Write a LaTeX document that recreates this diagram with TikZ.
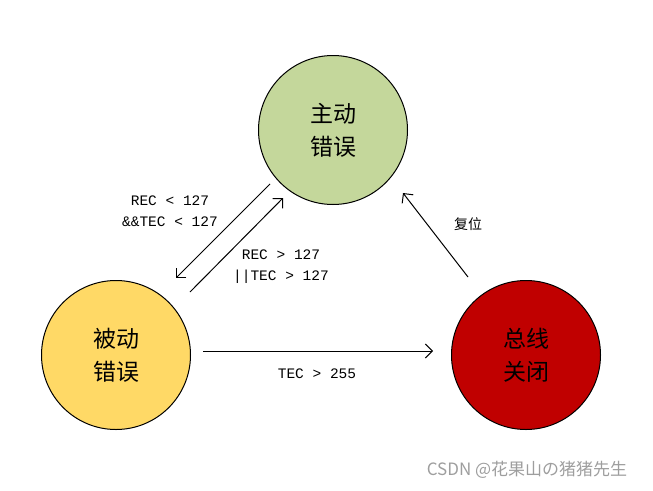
\documentclass[tikz,border=0pt]{standalone}
\usepackage{fontspec}
\newfontfamily\cjk{Noto Sans CJK SC}
\setmonofont{Liberation Mono}
\usetikzlibrary{arrows.meta}
\definecolor{cgreen}{HTML}{C4D79B}
\definecolor{cyellow}{HTML}{FFD966}
\definecolor{cred}{HTML}{C00000}
\tikzset{
  state/.style={circle,draw=black,line width=1pt,minimum size=149pt,inner sep=0pt,
    align=center,font=\cjk\fontsize{23}{33}\selectfont},
  conn/.style={line width=1pt,-{Straight Barb[length=7pt,width=14pt,line width=1pt]}},
  lbl/.style={font=\ttfamily\fontsize{14.5}{21}\selectfont,align=center,inner sep=0pt},
}
\begin{document}
\begin{tikzpicture}[x=1pt,y=-1pt]
\useasboundingbox (0,0) rectangle (653,490);
\node[state,fill=cgreen] (act) at (333,130) {主动\\错误};
\node[state,fill=cyellow] (pas) at (116,355) {被动\\错误};
\node[state,fill=cred] (off) at (526,355) {总线\\关闭};
\coordinate (a1) at (270,184); \coordinate (a2) at (176,278);
\coordinate (b1) at (190,292); \coordinate (b2) at (283,198);
\coordinate (c1) at (468,277); \coordinate (c2) at (403,193);
\coordinate (d1) at (203,351); \coordinate (d2) at (433,351);
\draw[conn] (a1) -- (a2);
\draw[conn] (b1) -- (b2);
\draw[conn] (c1) -- (c2);
\draw[conn] (d1) -- (d2);
\node[lbl] (l1) at (170,211) {REC < 127\\\&\&TEC < 127};
\node[lbl] (l2) at (281,267) {REC > 127\\||TEC > 127};
\node[lbl] (l3) at (317,374) {TEC > 255};
\node[font=\cjk\fontsize{14}{16}\selectfont,inner sep=0pt] (l4) at (468,224) {复位};
\node[font=\cjk\fontsize{17}{19}\selectfont,text=black!38,inner sep=0pt] (wm) at (527,470) {CSDN @花果山の猪猪先生};
\end{tikzpicture}
\end{document}
